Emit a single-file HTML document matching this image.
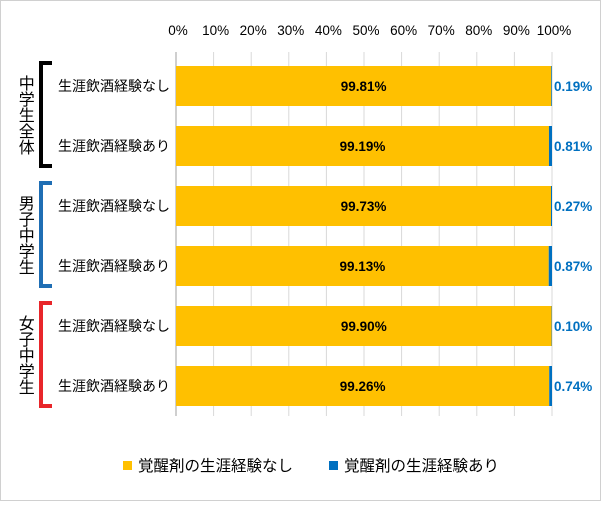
<!DOCTYPE html>
<html><head><meta charset="utf-8"><style>
body{margin:0;background:#fff}
svg text{font-family:"Liberation Sans","Noto Sans CJK JP",sans-serif}
</style></head><body>
<svg id="c" width="602" height="502" xmlns="http://www.w3.org/2000/svg">
<rect x="0.5" y="0.5" width="600" height="500" fill="#fff" stroke="#d0d0d0"/>
<g id="grid"></g><g id="bars"></g><g id="labels"></g>
<g>
<path d="M52,63 H41 V166 H52" fill="none" stroke="#000" stroke-width="4"/>
<path d="M52,183 H41 V286 H52" fill="none" stroke="#1f6eb4" stroke-width="4"/>
<path d="M52,303 H41 V406 H52" fill="none" stroke="#e8262a" stroke-width="4"/>
<text x="24" y="115" font-size="16" text-anchor="middle" style="writing-mode:vertical-rl" dominant-baseline="middle">中学生全体</text>
<text x="24" y="235" font-size="16" text-anchor="middle" style="writing-mode:vertical-rl" dominant-baseline="middle">男子中学生</text>
<text x="24" y="355" font-size="16" text-anchor="middle" style="writing-mode:vertical-rl" dominant-baseline="middle">女子中学生</text>
</g>
<g>
<rect x="123" y="461" width="9" height="9" fill="#ffc000"/>
<text x="138" y="471" font-size="15.5">覚醒剤の生涯経験なし</text>
<rect x="329" y="461" width="9" height="9" fill="#0070c0"/>
<text x="344" y="471" font-size="15.5">覚醒剤の生涯経験あり</text>
</g>
</svg>
<script>
const categories=["生涯飲酒経験なし","生涯飲酒経験あり","生涯飲酒経験なし","生涯飲酒経験あり","生涯飲酒経験なし","生涯飲酒経験あり"];
const noneValues=[99.81,99.19,99.73,99.13,99.90,99.26];
const yesValues=[0.19,0.81,0.27,0.87,0.10,0.74];
const tickLabels=["0%","10%","20%","30%","40%","50%","60%","70%","80%","90%","100%"];
const NS="http://www.w3.org/2000/svg";
const X0=176,X1=552,Y0=56,ROW=60,BH=40;
const x=v=>X0+(X1-X0)*v/100;
const yc=i=>Y0+ROW*i+ROW/2;
function mk(p,t,a){const e=document.createElementNS(NS,t);for(const k in a)e.setAttribute(k,a[k]);document.getElementById(p).appendChild(e);return e;}
tickLabels.forEach((t,i)=>{const v=i*10;
const l=mk("grid","line",{x1:x(v),x2:x(v),y1:Y0-4,y2:Y0+ROW*6,stroke:i==0?"#bfbfbf":"#d9d9d9","stroke-width":i==0?1.5:1});


const tx=mk("grid","text",{x:x(v)+2,y:35,"font-size":13.5,"text-anchor":"middle"});tx.textContent=t;


});
categories.forEach((c,i)=>{
const b=mk("bars","rect",{x:x(0),y:yc(i)-BH/2,width:x(noneValues[i])-x(0),height:BH,fill:"#ffc000"});


const b2=mk("bars","rect",{x:x(noneValues[i]),y:yc(i)-BH/2,width:Math.max(x(noneValues[i]+yesValues[i])-x(noneValues[i]),0),height:BH,fill:"#0070c0"});


const t1=mk("labels","text",{x:(x(0)+x(noneValues[i]))/2,y:yc(i)+5,"font-size":13.5,"font-weight":"bold","text-anchor":"middle",fill:"#000"});t1.textContent=noneValues[i].toFixed(2)+"%";


const t2=mk("labels","text",{x:554,y:yc(i)+5,"font-size":13.5,"font-weight":"bold",fill:"#0070c0"});t2.textContent=yesValues[i].toFixed(2)+"%";


const t3=mk("labels","text",{x:170,y:yc(i)+5,"font-size":14,"text-anchor":"end",fill:"#000"});t3.textContent=c;


});
</script>
</body></html>
